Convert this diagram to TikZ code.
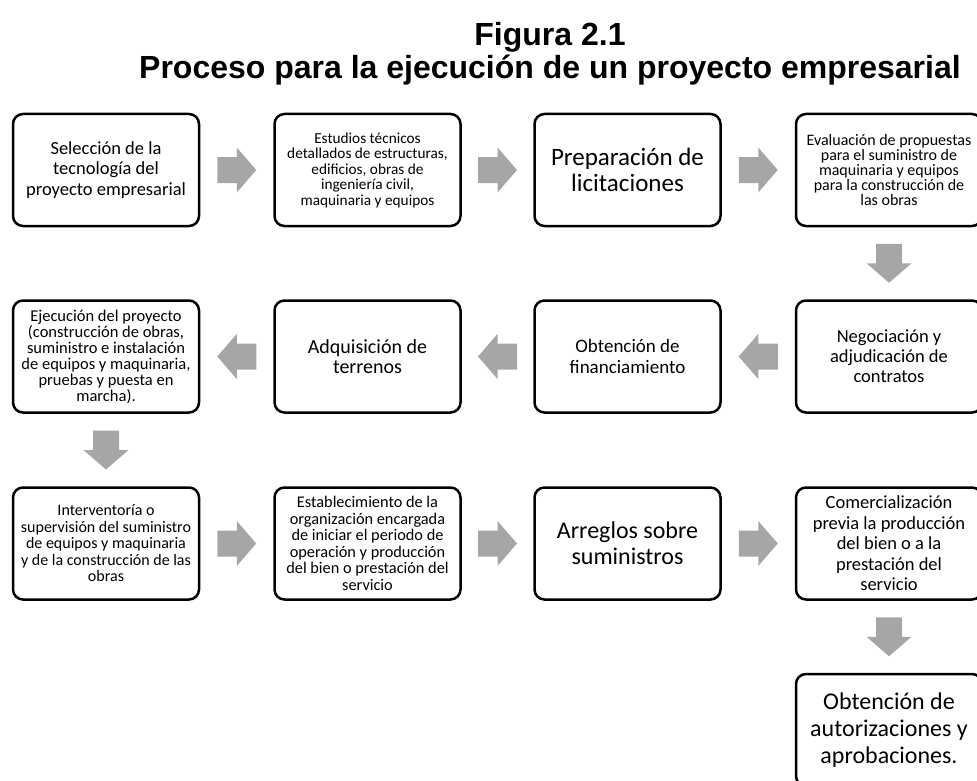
\documentclass[tikz,border=0pt]{standalone}
\usepackage{fontspec}
\setmainfont{Carlito}
\newfontfamily\titlefont{Liberation Sans}
\usetikzlibrary{calc}
\definecolor{arrowgray}{RGB}{166,166,166}
\tikzset{
  box/.style={draw=black, line width=2.5pt, rounded corners=10pt,
    minimum width=186pt, minimum height=112pt, align=center, inner sep=1pt},
  titletext/.style={anchor=base, font={\titlefont\bfseries\fontsize{32}{34}\selectfont}},
  blockarrow/.pic={\fill[arrowgray] (-19.5,-13) -- (0,-13) -- (0,-22.5) -- (19.5,0) -- (0,22.5) -- (0,13) -- (-19.5,13) -- cycle;}
}
\begin{document}
\begin{tikzpicture}[x=1pt,y=1pt]
\useasboundingbox (0,0) rectangle (977,-781);
% title
\node[titletext] (t1) at (550,-46) {Figura 2.1};
\node[titletext] (t2) at (550,-79) {Proceso para la ejecución de un proyecto empresarial};
% row 1
\node[box, font={\fontsize{18.5}{20.5}\selectfont}] (b1) at (106,-170) {Selección de la\\tecnología del\\proyecto empresarial};
\node[box, font={\fontsize{15.3}{15.5}\selectfont}] (b2) at (367.5,-170) {Estudios técnicos\\detallados de estructuras,\\edificios, obras de\\ingeniería civil,\\maquinaria y equipos};
\node[box, font={\fontsize{25}{26.5}\selectfont}] (b3) at (627.5,-170) {Preparación de\\licitaciones};
\node[box, font={\fontsize{16}{15}\selectfont}] (b4) at (889,-170) {Evaluación de propuestas\\para el suministro de\\maquinaria y equipos\\para la construcción de\\las obras};
% row 2
\node[box, font={\fontsize{18.5}{20}\selectfont}] (b5) at (889,-356.5) {Negociación y\\adjudicación de\\contratos};
\node[box, font={\fontsize{19}{21}\selectfont}] (b6) at (627.5,-356.5) {Obtención de\\financiamiento};
\node[box, font={\fontsize{20}{20.5}\selectfont}] (b7) at (367.5,-356.5) {Adquisición de\\terrenos};
\node[box, font={\fontsize{16.5}{16}\selectfont}] (b8) at (106,-356.5) {Ejecución del proyecto\\(construcción de obras,\\suministro e instalación\\de equipos y maquinaria,\\pruebas y puesta en\\marcha).};
% row 3
\node[box, font={\fontsize{16}{16.5}\selectfont}] (b9) at (106,-543.5) {Interventoría o\\supervisión del suministro\\de equipos y maquinaria\\y de la construcción de las\\obras};
\node[box, font={\fontsize{16.3}{16.5}\selectfont}] (b10) at (367.5,-543.5) {Establecimiento de la\\organización encargada\\de iniciar el periodo de\\operación y producción\\del bien o prestación del\\servicio};
\node[box, font={\fontsize{24}{25.5}\selectfont}] (b11) at (627.5,-543.5) {Arreglos sobre\\suministros};
\node[box, font={\fontsize{18.5}{20.5}\selectfont}] (b12) at (889,-543.5) {Comercialización\\previa la producción\\del bien o a la\\prestación del\\servicio};
% row 4
\node[box, font={\fontsize{24}{27}\selectfont}] (b13) at (889,-730) {Obtención de\\autorizaciones y\\aprobaciones.};
% arrows
\pic at ($(b1.east)!0.5!(b2.west)$) {blockarrow};
\pic at ($(b2.east)!0.5!(b3.west)$) {blockarrow};
\pic at ($(b3.east)!0.5!(b4.west)$) {blockarrow};
\pic[rotate=-90] at ($(b4.south)!0.5!(b5.north)$) {blockarrow};
\pic[rotate=180] at ($(b5.west)!0.5!(b6.east)$) {blockarrow};
\pic[rotate=180] at ($(b6.west)!0.5!(b7.east)$) {blockarrow};
\pic[rotate=180] at ($(b7.west)!0.5!(b8.east)$) {blockarrow};
\pic[rotate=-90] at ($(b8.south)!0.5!(b9.north)$) {blockarrow};
\pic at ($(b9.east)!0.5!(b10.west)$) {blockarrow};
\pic at ($(b10.east)!0.5!(b11.west)$) {blockarrow};
\pic at ($(b11.east)!0.5!(b12.west)$) {blockarrow};
\pic[rotate=-90] at ($(b12.south)!0.5!(b13.north)$) {blockarrow};
\end{tikzpicture}
\end{document}
